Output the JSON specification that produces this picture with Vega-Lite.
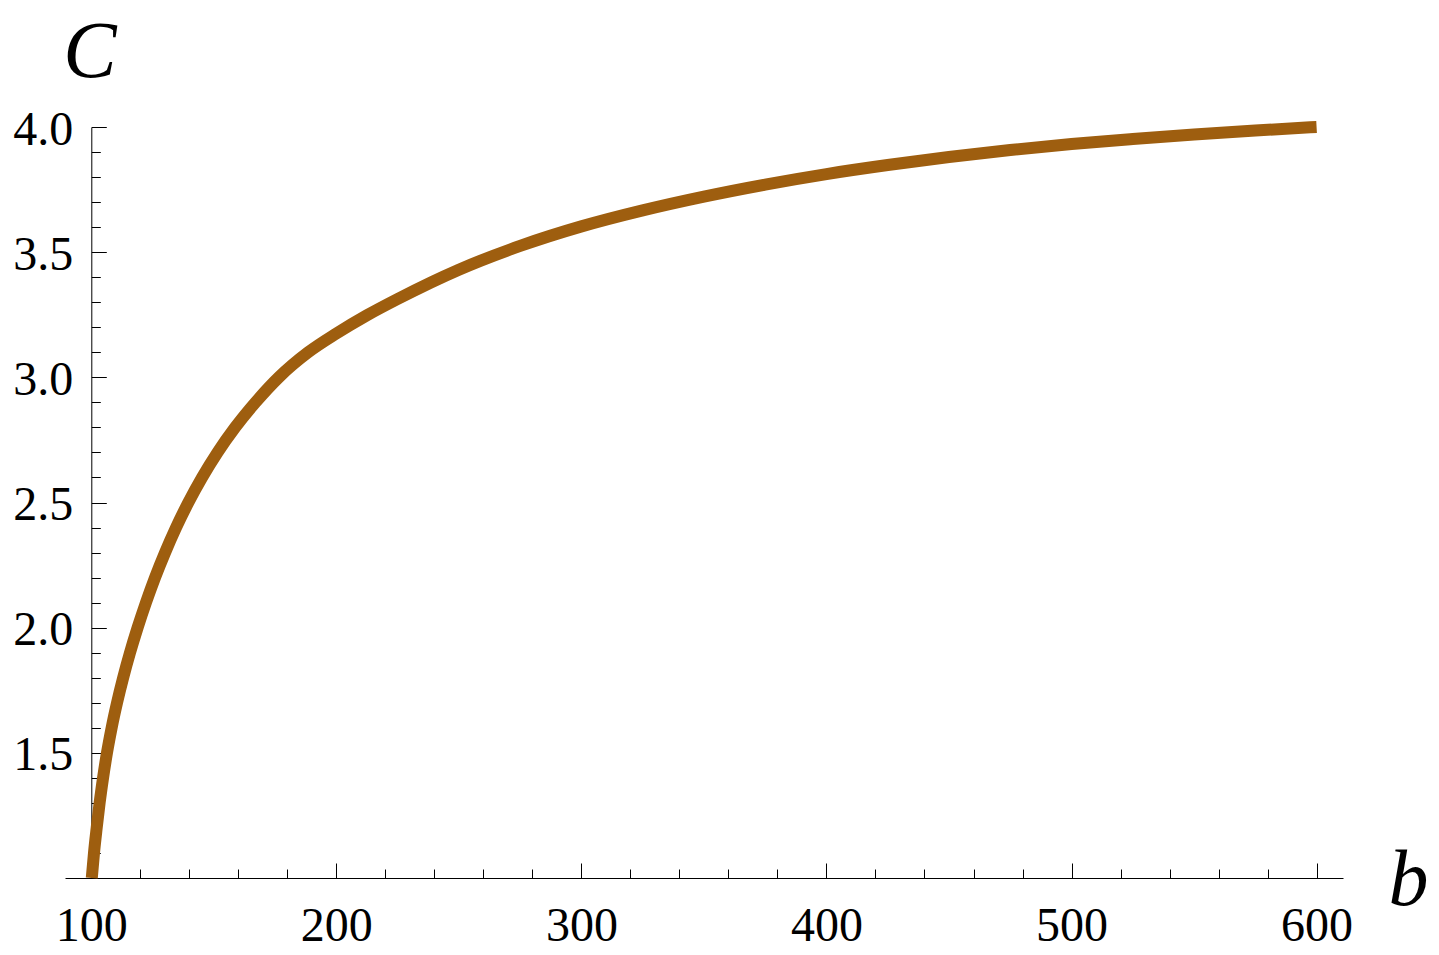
{
  "$schema": "https://vega.github.io/schema/vega-lite/v6.json",
  "width": 1278,
  "height": 751,
  "autosize": {"type": "none"},
  "padding": {"left": 65, "top": 127, "right": 96, "bottom": 77},
  "background": "white",
  "config": {
    "view": {"stroke": null},
    "axis": {
      "domainColor": "black", "tickColor": "black", "labelColor": "black", "titleColor": "black",
      "labelFont": "Liberation Serif", "titleFont": "Liberation Serif",
      "grid": false, "domainWidth": 1, "tickWidth": 1, "labelFlush": false, "labelOverlap": false
    }
  },
  "data": {
    "values": [
      {"b": 100.2, "C": 1.0}, {"b": 101.1, "C": 1.1}, {"b": 102.2, "C": 1.2}, {"b": 103.4, "C": 1.3},
      {"b": 104.8, "C": 1.4}, {"b": 106.4, "C": 1.5}, {"b": 108.3, "C": 1.6}, {"b": 110.5, "C": 1.7},
      {"b": 113.0, "C": 1.8}, {"b": 115.8, "C": 1.9}, {"b": 118.9, "C": 2.0}, {"b": 122.3, "C": 2.1},
      {"b": 126.0, "C": 2.2}, {"b": 130.1, "C": 2.3}, {"b": 134.6, "C": 2.4}, {"b": 139.6, "C": 2.5},
      {"b": 145.2, "C": 2.6}, {"b": 151.5, "C": 2.7}, {"b": 158.7, "C": 2.8}, {"b": 167.0, "C": 2.9},
      {"b": 176.5, "C": 3.0}, {"b": 188.5, "C": 3.1}, {"b": 200, "C": 3.175}, {"b": 212.5, "C": 3.248},
      {"b": 225, "C": 3.313}, {"b": 250, "C": 3.43}, {"b": 275, "C": 3.525}, {"b": 300, "C": 3.603},
      {"b": 325, "C": 3.667}, {"b": 350, "C": 3.722}, {"b": 375, "C": 3.77}, {"b": 400, "C": 3.812},
      {"b": 425, "C": 3.848}, {"b": 450, "C": 3.88}, {"b": 475, "C": 3.908}, {"b": 500, "C": 3.932},
      {"b": 525, "C": 3.952}, {"b": 550, "C": 3.97}, {"b": 575, "C": 3.986}, {"b": 600, "C": 4.0}
    ]
  },
  "layer": [
    {
      "mark": {"type": "line", "opacity": 0},
      "encoding": {
        "x": {
          "field": "b", "type": "quantitative",
          "scale": {"domain": [89.27, 610.78], "nice": false, "zero": false},
          "axis": {
            "orient": "bottom", "values": [120, 140, 160, 180, 220, 240, 260, 280, 320, 340, 360, 380, 420, 440, 460, 480, 520, 540, 560, 580],
            "tickSize": -9, "labels": false, "domain": false, "title": null
          }
        },
        "y": {
          "field": "C", "type": "quantitative",
          "scale": {"domain": [1, 4], "nice": false, "zero": false},
          "axis": {
            "orient": "left", "offset": -26.3,
            "values": [1.1, 1.2, 1.3, 1.4, 1.6, 1.7, 1.8, 1.9, 2.1, 2.2, 2.3, 2.4, 2.6, 2.7, 2.8, 2.9, 3.1, 3.2, 3.3, 3.4, 3.6, 3.7, 3.8, 3.9],
            "tickSize": -9, "labels": false, "domain": false, "title": null
          }
        }
      }
    },
    {
      "mark": {"type": "line", "color": "#9E5E0F", "strokeWidth": 12, "strokeCap": "butt", "interpolate": "monotone"},
      "encoding": {
        "x": {
          "field": "b", "type": "quantitative",
          "scale": {"domain": [89.27, 610.78], "nice": false, "zero": false},
          "axis": {
            "orient": "bottom", "values": [100, 200, 300, 400, 500, 600],
            "tickSize": -15, "labelPadding": 39, "labelFontSize": 48, "labelBaseline": "top", "labelAlign": "center",
            "title": "b", "titleFontSize": 80, "titleFontStyle": "italic", "titleFontWeight": "normal",
            "titleAlign": "left", "titleBaseline": "alphabetic", "titleX": 1323, "titleY": 26
          }
        },
        "y": {
          "field": "C", "type": "quantitative",
          "scale": {"domain": [1, 4], "nice": false, "zero": false},
          "axis": {
            "orient": "left", "offset": -26.3, "values": [1.5, 2, 2.5, 3, 3.5, 4], "format": ".1f",
            "tickSize": -15, "labelPadding": 33.6, "labelFontSize": 48, "labelAlign": "right", "labelBaseline": "middle", "labelOffset": 3,
            "title": "C", "titleAngle": 0, "titleFontSize": 80, "titleFontStyle": "italic", "titleFontWeight": "normal",
            "titleAlign": "center", "titleBaseline": "alphabetic", "titleX": -2, "titleY": -51
          }
        }
      }
    }
  ],
  "resolve": {"axis": {"x": "independent", "y": "independent"}}
}
